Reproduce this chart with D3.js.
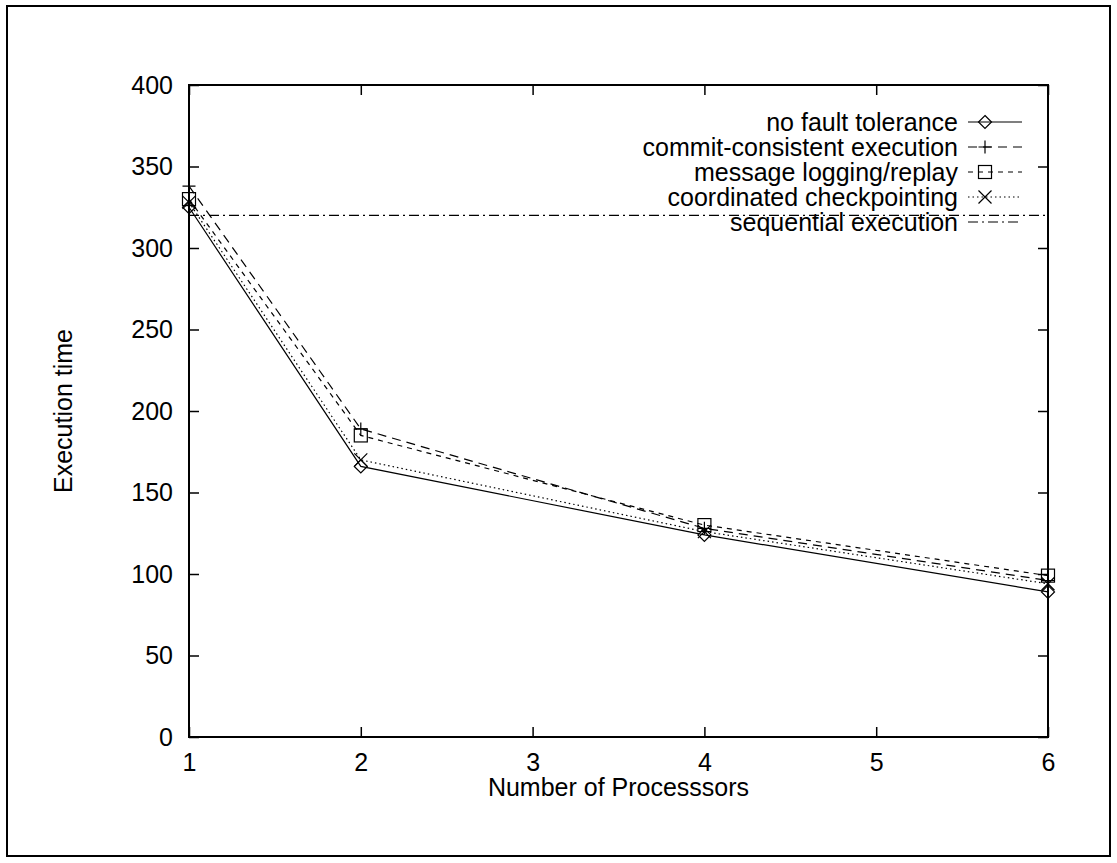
<!DOCTYPE html>
<html>
<head>
<meta charset="utf-8">
<script src="https://cdn.jsdelivr.net/npm/d3@7"></script>
<style>
  body { margin: 0; background: #fff; }
  svg text { font-family: "Liberation Sans", Arial, sans-serif; fill: #000; }
</style>
</head>
<body>
<svg id="chart" width="1117" height="863"></svg>
<script>
// data
const processors = [1, 2, 4, 6]
const noFault = [325, 166, 124, 89]
const commitConsistent = [338, 189, 128, 96]
const messageLogging = [330, 185, 130, 99]
const coordinated = [328, 170, 126, 94]
const sequential = 320
const yTicks = [0, 50, 100, 150, 200, 250, 300, 350, 400]
const xTicks = [1, 2, 3, 4, 5, 6]

const series = [
  {name: "no fault tolerance", values: noFault, dash: null, mark: "diamond"},
  {name: "commit-consistent execution", values: commitConsistent, dash: "9,6", mark: "plus"},
  {name: "message logging/replay", values: messageLogging, dash: "5,5", mark: "square"},
  {name: "coordinated checkpointing", values: coordinated, dash: "1.5,3", mark: "cross"}
]

const margin = {left: 189, top: 85, right: 69, bottom: 126}
const width = 1117 - margin.left - margin.right
const height = 863 - margin.top - margin.bottom

const svg = d3.select("#chart")

// outer border
svg.append("rect")
  .attr("x", 7).attr("y", 6)
  .attr("width", 1103).attr("height", 850)
  .attr("fill", "none").attr("stroke", "#000").attr("stroke-width", 2)

const g = svg.append("g")
  .attr("transform", `translate(${margin.left},${margin.top})`)

const x = d3.scaleLinear().domain([1, 6]).range([0, width])
const y = d3.scaleLinear().domain([0, 400]).range([height, 0])

// axes, ticks pointing inward like gnuplot
const fs = 25
g.append("g")
  .attr("transform", `translate(0,${height})`)
  .call(d3.axisBottom(x).tickValues(xTicks).tickSize(-10).tickPadding(16).tickFormat(d3.format("d")))
g.append("g")
  .call(d3.axisTop(x).tickValues(xTicks).tickSize(-10).tickFormat(""))
g.append("g")
  .call(d3.axisLeft(y).tickValues(yTicks).tickSize(-10).tickPadding(16))
g.append("g")
  .attr("transform", `translate(${width},0)`)
  .call(d3.axisRight(y).tickValues(yTicks).tickSize(-10).tickFormat(""))

g.selectAll(".domain").remove()
g.selectAll(".tick line").attr("stroke", "#000").attr("stroke-width", 1.5)
g.selectAll(".tick text").attr("font-size", fs).attr("font-family", "Liberation Sans, Arial, sans-serif").attr("fill", "#000")

g.append("rect")
  .attr("width", width).attr("height", height)
  .attr("fill", "none").attr("stroke", "#000").attr("stroke-width", 2)

// axis titles
g.append("text")
  .attr("x", width / 2).attr("y", height + 59)
  .attr("text-anchor", "middle").attr("font-size", fs)
  .text("Number of Processsors")
g.append("text")
  .attr("transform", `translate(${-117},${height / 2}) rotate(-90)`)
  .attr("text-anchor", "middle").attr("font-size", fs)
  .text("Execution time")

function drawMark(sel, type, cx, cy) {
  const s = 6.5
  if (type === "diamond") {
    sel.append("path").attr("d", `M${cx},${cy - s}L${cx + s},${cy}L${cx},${cy + s}L${cx - s},${cy}Z`)
      .attr("fill", "none").attr("stroke", "#000").attr("stroke-width", 1.2)
  } else if (type === "plus") {
    sel.append("path").attr("d", `M${cx - s},${cy}H${cx + s}M${cx},${cy - s}V${cy + s}`)
      .attr("stroke", "#000").attr("stroke-width", 1.2)
  } else if (type === "square") {
    sel.append("rect").attr("x", cx - s).attr("y", cy - s).attr("width", 2 * s).attr("height", 2 * s)
      .attr("fill", "none").attr("stroke", "#000").attr("stroke-width", 1.2)
  } else if (type === "cross") {
    sel.append("path").attr("d", `M${cx - s},${cy - s}L${cx + s},${cy + s}M${cx - s},${cy + s}L${cx + s},${cy - s}`)
      .attr("stroke", "#000").attr("stroke-width", 1.2)
  }
}

const line = d3.line().x(d => x(d[0])).y(d => y(d[1]))

series.forEach(s => {
  const pts = processors.map((p, i) => [p, s.values[i]])
  g.append("path")
    .datum(pts)
    .attr("d", line)
    .attr("fill", "none").attr("stroke", "#000").attr("stroke-width", 1.2)
    .attr("stroke-dasharray", s.dash)
  pts.forEach(p => drawMark(g, s.mark, x(p[0]), y(p[1])))
})

// sequential execution reference line
g.append("line")
  .attr("x1", 0).attr("x2", width)
  .attr("y1", y(sequential)).attr("y2", y(sequential))
  .attr("stroke", "#000").attr("stroke-width", 1.2)
  .attr("stroke-dasharray", "10,4,2,4")

// legend
const legendNames = series.map(s => s.name).concat(["sequential execution"])
const legendX = 958 - margin.left
const legendY0 = 122 - margin.top
const rowH = 25
legendNames.forEach((name, i) => {
  const ly = legendY0 + i * rowH
  g.append("text")
    .attr("x", legendX).attr("y", ly)
    .attr("dy", "0.35em")
    .attr("text-anchor", "end").attr("font-size", fs)
    .text(name)
  const s = series[i]
  g.append("line")
    .attr("x1", legendX + 10).attr("x2", legendX + 64)
    .attr("y1", ly).attr("y2", ly)
    .attr("stroke", "#000").attr("stroke-width", 1.2)
    .attr("stroke-dasharray", s ? s.dash : "10,4,2,4")
  if (s) drawMark(g, s.mark, legendX + 27, ly)
})
</script>
</body>
</html>
